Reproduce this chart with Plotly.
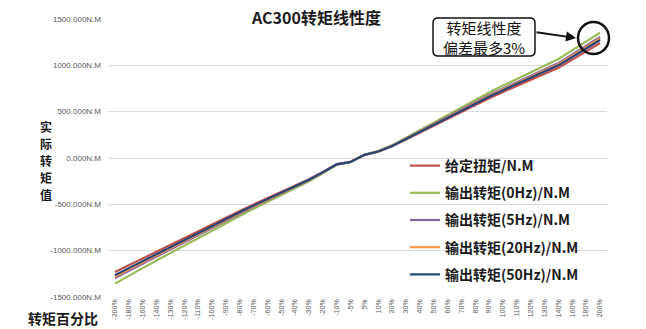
import plotly.graph_objects as go

# Torque percentage categories (x axis)
categories = ["-200%", "-180%", "-160%", "-140%", "-130%", "-120%", "-110%", "-100%",
              "-90%", "-80%", "-70%", "-60%", "-50%", "-40%", "-30%", "-20%", "-10%", "-5%",
              "5%", "10%", "20%", "30%", "40%", "50%", "60%", "70%", "80%", "90%",
              "100%", "110%", "120%", "130%", "140%", "160%", "180%", "200%"]

# Torque values in N.M
given_torque = [-1231, -1157, -1083, -1009, -935, -861, -787, -715, -643, -571, -501, -432,
                -364, -296, -228, -150, -66, -41, 33, 68, 127, 200, 275, 351, 427, 502,
                575, 645, 713, 779, 845, 910, 974, 1062, 1151, 1241]
out_0hz = [-1356, -1269, -1188, -1106, -1025, -944, -863, -784, -705, -626, -549, -474,
           -399, -325, -250, -164, -73, -45, 36, 75, 139, 219, 301, 384, 468, 550,
           630, 707, 782, 854, 927, 998, 1068, 1164, 1262, 1352]
out_5hz = [-1296, -1218, -1140, -1062, -984, -906, -828, -752, -677, -601, -527, -455,
           -383, -312, -240, -158, -70, -43, 35, 72, 133, 210, 289, 369, 449, 528,
           605, 679, 750, 820, 890, 957, 1025, 1117, 1212, 1306]
out_20hz = [-1279, -1202, -1125, -1048, -972, -895, -818, -743, -668, -593, -520, -449,
            -378, -308, -237, -156, -69, -43, 34, 71, 132, 207, 285, 364, 443, 521,
            597, 670, 741, 810, 878, 945, 1012, 1103, 1196, 1289]
out_50hz = [-1264, -1188, -1112, -1036, -960, -884, -808, -734, -660, -586, -514, -444,
            -374, -304, -234, -154, -68, -42, 34, 70, 130, 205, 282, 360, 438, 515,
            590, 662, 732, 800, 868, 934, 1000, 1090, 1182, 1274]

series_names = ["给定扭矩/N.M", "输出转矩(0Hz)/N.M", "输出转矩(5Hz)/N.M",
                "输出转矩(20Hz)/N.M", "输出转矩(50Hz)/N.M"]
series_values = [given_torque, out_0hz, out_5hz, out_20hz, out_50hz]
series_colors = ["#C0504D", "#9BBB59", "#8064A2", "#F79646", "#24477A"]

y_tickvals = [-1500, -1000, -500, 0, 500, 1000, 1500]
y_ticktext = ["-1500.000N.M", "-1000.000N.M", "-500.000N.M", "0.000N.M",
              "500.000N.M", "1000.000N.M", "1500.000N.M"]

CJK = "Noto Sans CJK SC"

fig = go.Figure()
for name, vals, col in zip(series_names, series_values, series_colors):
    fig.add_trace(go.Scatter(
        x=categories, y=vals, name=name, mode="lines", legendgroup=name,
        line=dict(color=col, width=2.2),
    ))

# plot area geometry in pixels (for paper-coordinate conversions)
L, R, T, B = 108, 607, 19, 297
def px(x):
    return (x - L) / (R - L)
def py(y):
    return (B - y) / (B - T)

fig.update_layout(
    width=646, height=329,
    margin=dict(l=L, r=646 - R, t=T, b=329 - B),
    paper_bgcolor="white", plot_bgcolor="white",
    showlegend=True,
    legend=dict(
        x=px(405), y=py(150), xanchor="left", yanchor="top",
        bgcolor="rgba(0,0,0,0)", tracegroupgap=6,
        font=dict(family=CJK, size=14, color="#1a1a1a", weight="bold"),
        itemwidth=30,
    ),
    xaxis=dict(
        type="category", categoryorder="array", categoryarray=categories,
        showgrid=False, showline=False, zeroline=False,
        tickangle=-90, tickfont=dict(family="Liberation Sans", size=7, color="#595959"),
        ticks="", automargin=False, range=[-0.5, len(categories) - 0.5],
    ),
    yaxis=dict(
        range=[-1500, 1500], tickvals=y_tickvals, ticktext=y_ticktext,
        showgrid=True, gridcolor="#D9D9D9", gridwidth=1, zeroline=False,
        showline=False, ticks="", ticklabelstandoff=6,
        tickfont=dict(family="Liberation Sans", size=8, color="#595959"),
        automargin=False,
    ),
)

annotations = []
# chart title
annotations.append(dict(
    text="AC300转矩线性度", x=px(316), y=py(17), xref="paper", yref="paper",
    showarrow=False, xanchor="center", yanchor="middle",
    font=dict(family=CJK, size=16, color="#1a1a1a", weight="bold"),
))
# vertical y-axis title, one character per row
y_title = "实际转矩值"
for i, ch in enumerate(y_title):
    annotations.append(dict(
        text=ch, x=px(46), y=py(126 + i * 17), xref="paper", yref="paper",
        showarrow=False, xanchor="center", yanchor="middle",
        font=dict(family=CJK, size=12, color="#1a1a1a", weight="bold"),
    ))
# x-axis title
annotations.append(dict(
    text="转矩百分比", x=px(26), y=py(318), xref="paper", yref="paper",
    showarrow=False, xanchor="left", yanchor="middle",
    font=dict(family=CJK, size=14, color="#1a1a1a", weight="bold"),
))
# callout text
annotations.append(dict(
    text="转矩线性度<br>偏差最多3%", x=px(484), y=py(37), xref="paper", yref="paper",
    showarrow=False, xanchor="center", yanchor="middle",
    font=dict(family=CJK, size=15, color="#111111"),
))
# callout arrow
annotations.append(dict(
    text="", x=px(576), y=py(38), xref="paper", yref="paper",
    showarrow=True, ax=-41, ay=-6, arrowhead=2, arrowsize=1, arrowwidth=2,
    arrowcolor="#111111",
))
fig.update_layout(annotations=annotations)

# rounded callout box
x0, x1, y0, y1 = px(433), px(535), py(56), py(18)
rx = 5 / (R - L)
ry = 5 / (B - T)
path = (f"M {x0 + rx},{y0} L {x1 - rx},{y0} Q {x1},{y0} {x1},{y0 + ry} "
        f"L {x1},{y1 - ry} Q {x1},{y1} {x1 - rx},{y1} "
        f"L {x0 + rx},{y1} Q {x0},{y1} {x0},{y1 - ry} "
        f"L {x0},{y0 + ry} Q {x0},{y0} {x0 + rx},{y0} Z")
fig.add_shape(type="path", path=path, xref="paper", yref="paper",
              line=dict(color="#111111", width=1.5), fillcolor="white", layer="above")
# circle around the line ends
fig.add_shape(type="circle", xref="paper", yref="paper",
              x0=px(578), x1=px(609), y0=py(54), y1=py(22),
              line=dict(color="#111111", width=2.5), layer="above")

fig.write_html("out.html")
